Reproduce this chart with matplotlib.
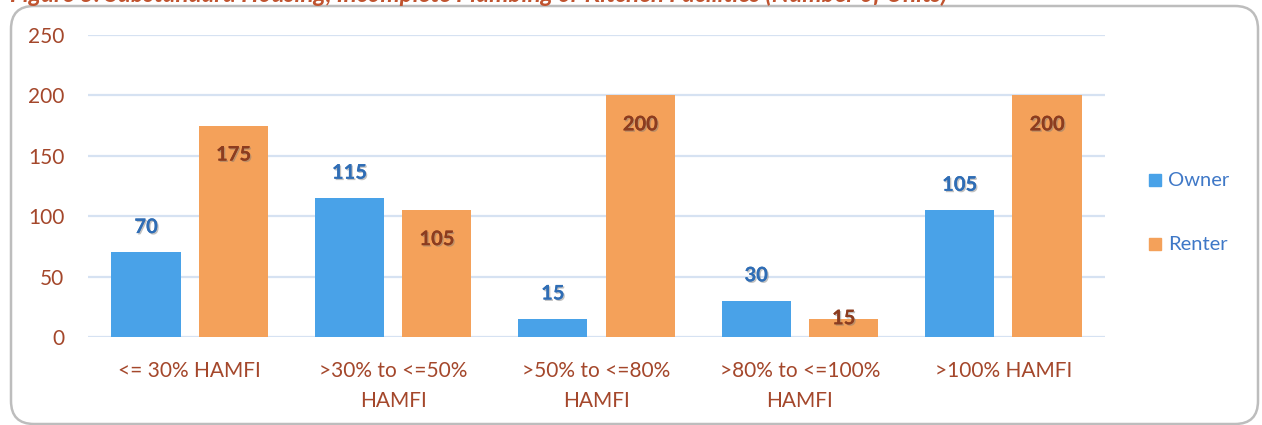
import matplotlib
matplotlib.use('Agg')
import matplotlib.pyplot as plt
import matplotlib.patheffects as pe
from matplotlib.patches import FancyBboxPatch
import numpy as np

# DATA
categories = ['<= 30% HAMFI', '>30% to <=50%\nHAMFI', '>50% to <=80%\nHAMFI',
              '>80% to <=100%\nHAMFI', '>100% HAMFI']
owner = [70, 115, 15, 30, 105]
renter = [175, 105, 200, 15, 200]
yticks = [0, 50, 100, 150, 200, 250]
title = 'Figure 3: Substandard Housing, Incomplete Plumbing or Kitchen Facilities (Number of Units)'

# STYLE
plt.rcParams['font.family'] = ['Lato', 'DejaVu Sans']
blue = '#49a2e8'
orange = '#f4a15a'
blue_txt = '#2f6db5'
brown_lbl = '#8c3c1f'
brown_tick = '#a4472b'
grid_c = '#d6e2f2'

W, H = 1262, 425
fig = plt.figure(figsize=(W / 100, H / 100), dpi=100)

# rounded frame
frame = FancyBboxPatch((11 / W, 1 - 424 / H), (1258 - 11) / W, (424 - 6) / H,
                       boxstyle='round,pad=0,rounding_size=%f' % (23 / W),
                       mutation_aspect=W / H,
                       transform=fig.transFigure, facecolor='white',
                       edgecolor='#bdbdbd', linewidth=1.8, zorder=-5)
fig.patches.append(frame)

# title, cut at the top edge like the source image
fig.text(10 / W, 1 + 6 / H, title, ha='left', va='center', fontsize=17.5,
         fontstyle='italic', fontweight='bold', color='#c0532f')

ax = fig.add_axes([88 / W, 1 - 337 / H, (1105 - 88) / W, (337 - 35) / H])
ax.set_facecolor('none')
ax.set_zorder(2)

x = np.arange(len(categories))
bw = 0.34
off = 0.215
ax.bar(x - off, owner, bw, color=blue, zorder=3)
ax.bar(x + off, renter, bw, color=orange, zorder=3)

shadow = [pe.withSimplePatchShadow(offset=(1, -1), shadow_rgbFace='#777777', alpha=0.45), pe.Normal()]
for i in range(len(categories)):
    ax.text(x[i] - off, owner[i] + 21, str(owner[i]), ha='center', va='center',
            fontsize=14.5, fontweight='bold', color=blue_txt, path_effects=shadow, zorder=4)
    if renter[i] >= 50:
        ry = renter[i] - 24
    else:
        ry = renter[i] + 0.5
    ax.text(x[i] + off, ry, str(renter[i]), ha='center', va='center',
            fontsize=14.5, fontweight='bold', color=brown_lbl, path_effects=shadow, zorder=4)

ax.set_xlim(-0.5, len(categories) - 0.5)
ax.set_ylim(0, 250)
ax.set_yticks(yticks)
ax.yaxis.grid(True, color=grid_c, linewidth=1.6, zorder=0)
ax.set_axisbelow(True)
for s in ax.spines.values():
    s.set_visible(False)
ax.tick_params(axis='both', length=0, labelsize=15, colors=brown_tick)
ax.tick_params(axis='y', pad=17)
ax.tick_params(axis='x', pad=17)
ax.set_xticks(x)
ax.set_xticklabels(categories, linespacing=1.62)

# legend
fig.patches.append(plt.Rectangle((1149 / W, 1 - 186 / H), 12 / W, 12 / H,
                                 transform=fig.transFigure, color=blue))
fig.patches.append(plt.Rectangle((1149 / W, 1 - 250 / H), 12 / W, 12 / H,
                                 transform=fig.transFigure, color=orange))
fig.text(1168 / W, 1 - 180 / H, 'Owner', ha='left', va='center', fontsize=14.5, color='#3f78c7')
fig.text(1168 / W, 1 - 244 / H, 'Renter', ha='left', va='center', fontsize=14.5, color='#3f78c7')

fig.savefig('out.png', dpi=100)
